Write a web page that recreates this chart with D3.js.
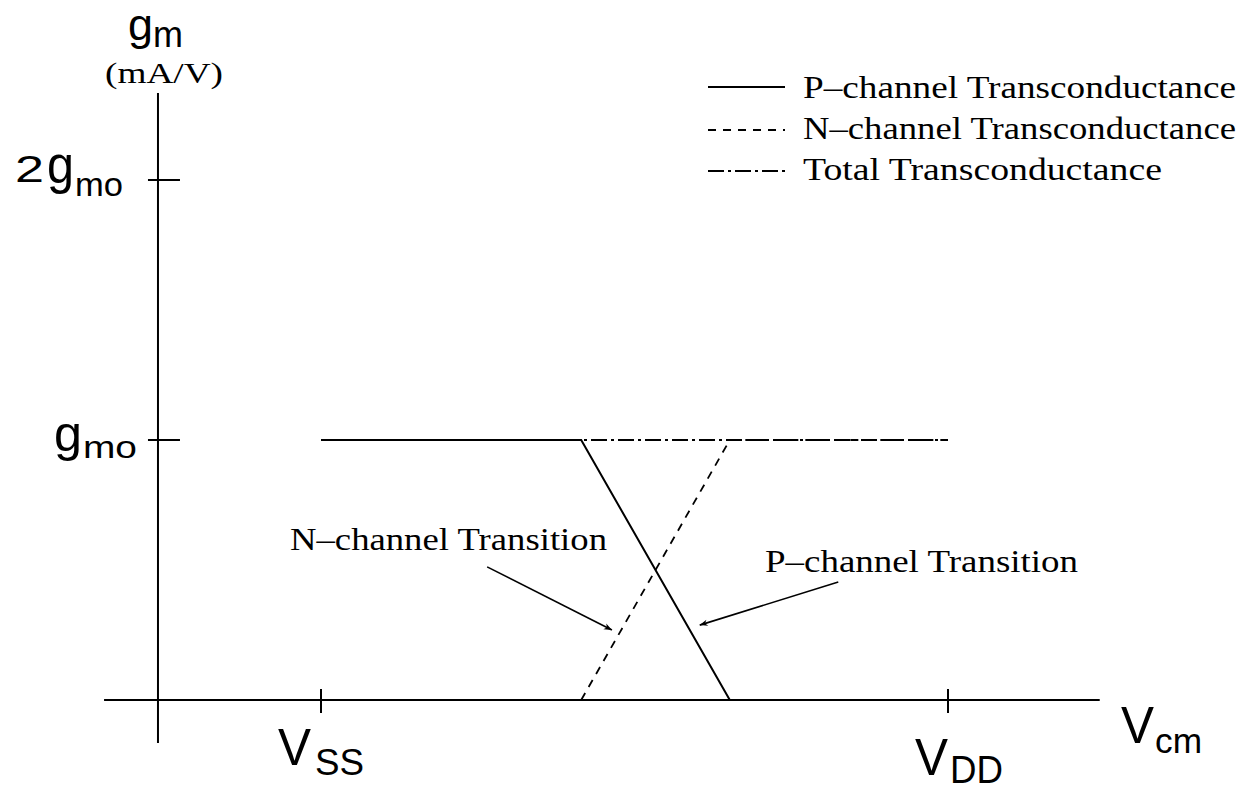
<!DOCTYPE html>
<html>
<head>
<meta charset="utf-8">
<script src="https://cdn.jsdelivr.net/npm/d3@7"></script>
<style>
  html, body { margin: 0; padding: 0; background: #fff; }
  svg { display: block; }
  .serif { font-family: "Liberation Serif", "Times New Roman", serif; }
  .sans { font-family: "Liberation Sans", Arial, sans-serif; }
</style>
</head>
<body>
<svg id="chart" width="1237" height="791"></svg>
<script>
// ---- data (Vcm normalised: VSS = 0, VDD = 1; gm in units of gmo) ----
const pChannelVcm = [0, 0.415, 0.652];
const pChannelGm  = [1, 1, 0];
const nChannelVcm = [0.415, 0.652, 1];
const nChannelGm  = [0, 1, 1];
const totalVcm    = [0, 1];
const totalGm     = [1, 1];

const yTickValues = [1, 2];
const yTickPrefix = ["", "2"];
const yTickMain   = ["g", "g"];
const yTickSub    = ["mo", "mo"];
const xTickValues = [0, 1];
const xTickMain   = ["V", "V"];
const xTickSub    = ["SS", "DD"];

const yTitleMain = "g", yTitleSub = "m", yTitleUnit = "(mA/V)";
const xTitleMain = "V", xTitleSub = "cm";

const legendLabels = ["P\u2013channel Transconductance", "N\u2013channel Transconductance", "Total Transconductance"];
const annotLabels  = ["N\u2013channel Transition", "P\u2013channel Transition"];
// arrow start / tip in data units
const annotFromVcm = [0.265, 0.825];
const annotFromGm  = [0.512, 0.454];
const annotToVcm   = [0.464, 0.604];
const annotToGm    = [0.269, 0.288];

// ---- layout ----
const svg = d3.select("#chart");
const x = d3.scaleLinear().domain([0, 1]).range([321, 948]);
const y = d3.scaleLinear().domain([0, 1]).range([700, 440]);
const xAxisDomain = [-0.346, 1.242];
const yAxisDomain = [-0.165, 2.335];
const yAxisAt = -0.26;

const defs = svg.append("defs");
defs.append("marker").attr("id", "arrow")
  .attr("viewBox", "0 0 10 10").attr("refX", 10).attr("refY", 5)
  .attr("markerWidth", 14).attr("markerHeight", 8).attr("markerUnits", "userSpaceOnUse")
  .attr("orient", "auto")
  .append("path").attr("d", "M0,1 L10,5 L0,9 L3,5 Z").attr("fill", "#000");

// axes
const axes = svg.append("g").attr("stroke", "#000").attr("stroke-width", 2);
axes.append("line").attr("x1", x(xAxisDomain[0])).attr("x2", x(xAxisDomain[1]))
  .attr("y1", y(0)).attr("y2", y(0));
axes.append("line").attr("x1", x(yAxisAt)).attr("x2", x(yAxisAt))
  .attr("y1", y(yAxisDomain[0])).attr("y2", y(yAxisDomain[1]));
axes.selectAll(".yt").data(yTickValues).join("line")
  .attr("x1", x(yAxisAt) - 10).attr("x2", x(yAxisAt) + 22)
  .attr("y1", d => y(d)).attr("y2", d => y(d));
axes.selectAll(".xt").data(xTickValues).join("line")
  .attr("x1", d => x(d)).attr("x2", d => x(d))
  .attr("y1", y(0) - 11).attr("y2", y(0) + 13);

function piece(g, txt, px, py, size, len, cls, adjust) {
  const t = g.append("text").attr("class", cls || "sans")
    .attr("x", px).attr("y", py).attr("font-size", size).text(txt);
  if (len) t.attr("textLength", len).attr("lengthAdjust", adjust || "spacingAndGlyphs");
  return t;
}

// y tick labels (offsets relative to tick position)
const yLab = svg.append("g");
const yPrefixLayout = [null, {x: 15, dy: 2, size: 37, len: 29}];
const yMainLayout   = [{x: 54, dy: 11, size: 50, len: 28}, {x: 47, dy: 3, size: 54, len: 27}];
const ySubLayout    = [{x: 83, dy: 18, size: 31, len: 54}, {x: 75, dy: 16, size: 33, len: 48}];
yTickValues.forEach((v, i) => {
  const p = yPrefixLayout[i];
  if (yTickPrefix[i] && p) piece(yLab, yTickPrefix[i], p.x, y(v) + p.dy, p.size, p.len);
  const m = yMainLayout[i];
  piece(yLab, yTickMain[i], m.x, y(v) + m.dy, m.size, m.len);
  const s = ySubLayout[i];
  piece(yLab, yTickSub[i], s.x, y(v) + s.dy, s.size, s.len);
});

// x tick labels (offsets relative to tick position)
const xLab = svg.append("g");
const xMainLayout = [{dx: -43, y: 765, size: 51, len: 33}, {dx: -33, y: 775, size: 51, len: 33}];
const xSubLayout  = [{dx: -6, y: 775, size: 37, len: 49}, {dx: 2, y: 783, size: 38, len: 53}];
xTickValues.forEach((v, i) => {
  const m = xMainLayout[i], s = xSubLayout[i];
  piece(xLab, xTickMain[i], x(v) + m.dx, m.y, m.size, m.len);
  piece(xLab, xTickSub[i], x(v) + s.dx, s.y, s.size, s.len);
});

// axis titles
piece(svg, yTitleMain, 128, 40, 44, 25);
piece(svg, yTitleSub, 153, 47, 36, 30);
piece(svg, yTitleUnit, 105, 83, 29, 118, "serif");
piece(svg, xTitleMain, 1121, 743, 51, 33);
piece(svg, xTitleSub, 1155, 753, 35, 47);

// curves
const line = d3.line().x(d => x(d[0])).y(d => y(d[1]));
const zip = (a, b) => a.map((v, i) => [v, b[i]]);
const curves = svg.append("g").attr("fill", "none").attr("stroke", "#000").attr("stroke-width", 2);
curves.append("path").attr("d", line(zip(totalVcm, totalGm))).attr("stroke-dasharray", "16,4,3,4");
curves.append("path").attr("d", line(zip(nChannelVcm, nChannelGm))).attr("stroke-dasharray", "8,7").attr("stroke-width", 1.8);
curves.append("path").attr("d", line(zip(pChannelVcm, pChannelGm)));

// annotations
const ann = svg.append("g");
const annTextX = [290, 765];
const annTextY = [550, 572];
const annTextLen = [317, 313];
annotLabels.forEach((lab, i) => {
  piece(ann, lab, annTextX[i], annTextY[i], 32, annTextLen[i], "serif");
  ann.append("line")
    .attr("x1", x(annotFromVcm[i])).attr("y1", y(annotFromGm[i]))
    .attr("x2", x(annotToVcm[i])).attr("y2", y(annotToGm[i]))
    .attr("stroke", "#000").attr("stroke-width", 1.6).attr("marker-end", "url(#arrow)");
});

// legend
const legendDash = [null, "8,7", "16,4,3,4"];
const legendLineY = [87, 130, 171];
const legendTextY = [98, 139, 180];
const legendTextLen = [433, 433, 359];
const lg = svg.append("g");
legendLabels.forEach((lab, i) => {
  lg.append("line").attr("x1", 708).attr("x2", 785)
    .attr("y1", legendLineY[i]).attr("y2", legendLineY[i])
    .attr("stroke", "#000").attr("stroke-width", 2)
    .attr("stroke-dasharray", legendDash[i]);
  piece(lg, lab, 803, legendTextY[i], 31, legendTextLen[i], "serif");
});
</script>
</body>
</html>
